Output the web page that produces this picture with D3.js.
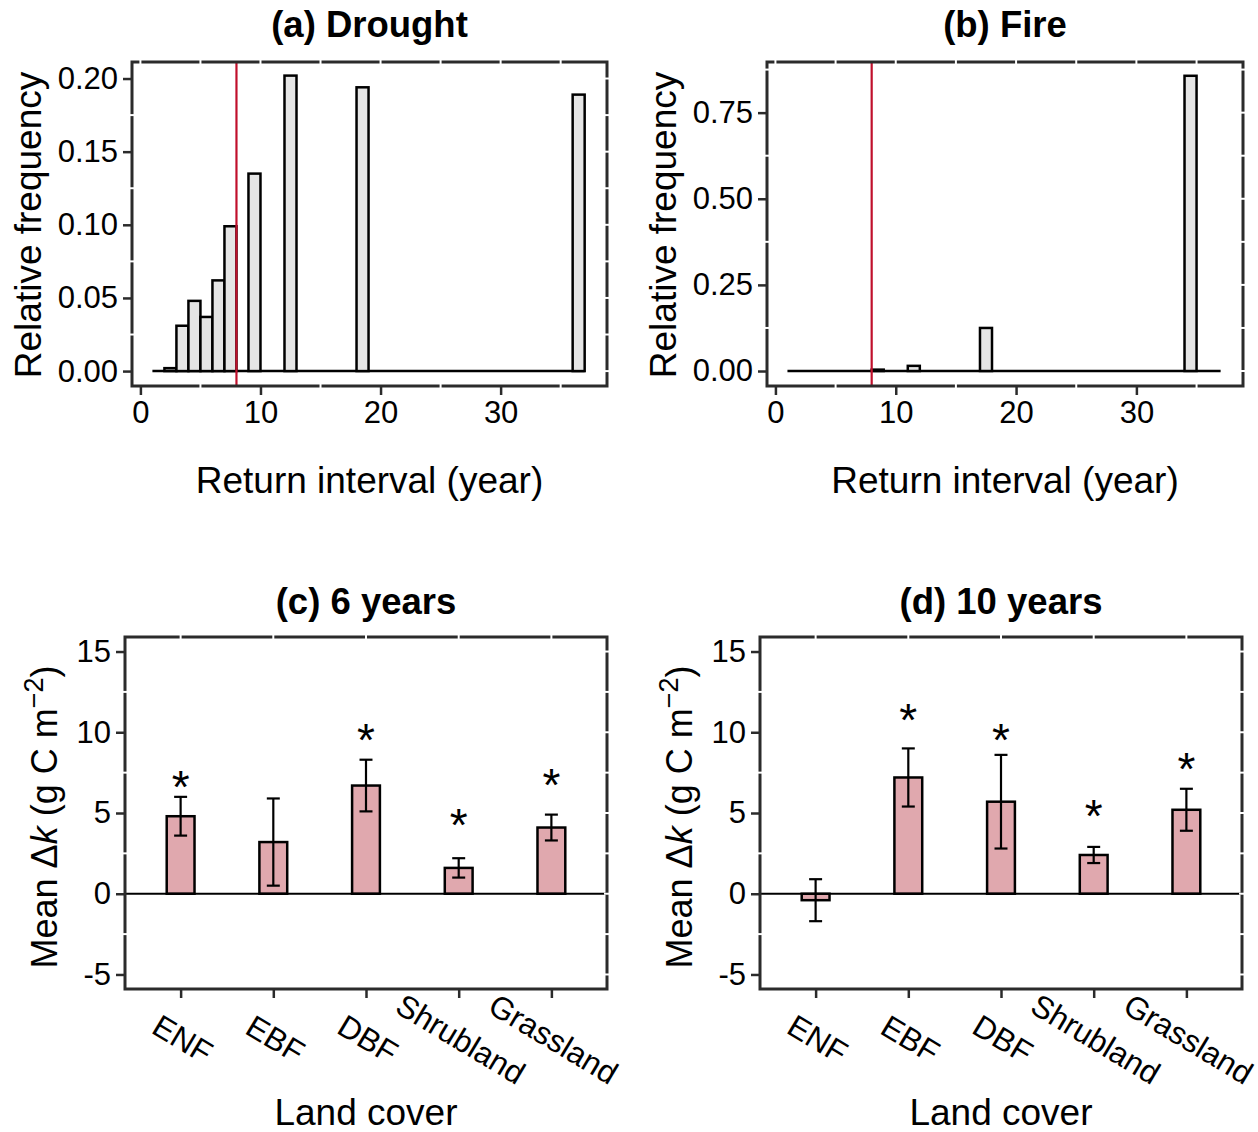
<!DOCTYPE html>
<html lang="en">
<head>
    <meta charset="UTF-8">
    <title>Return intervals and mean delta k</title>
    <script src="https://d3js.org/d3.v7.min.js"></script>
    <style>
        body {
            margin: 0;
            padding: 0;
            background: #fff;
            overflow: hidden;
        }
        svg {
            display: block;
            font-family: "Liberation Sans", Arial, sans-serif;
        }
    </style>
</head>
<body>
    <svg id="chart" width="1258" height="1132"></svg>

    <script>
        // histogram bins (left edge, 1 year wide) and relative frequencies
        const droughtBins = [2, 3, 4, 5, 6, 7, 9, 12, 18, 36];
        const droughtFreq = [0.002, 0.031, 0.048, 0.037, 0.062, 0.099, 0.135, 0.202, 0.194, 0.189];
        const fireBins = [8, 11, 17, 34];
        const fireFreq = [0.004, 0.015, 0.125, 0.857];
        const binRange = [1, 37];
        const thresholdYear = 8;

        const freqTicksDrought = [0, 0.05, 0.10, 0.15, 0.20];
        const freqTicksFire = [0, 0.25, 0.50, 0.75];
        const yearTicks = [0, 10, 20, 30];

        // mean delta k by land cover
        const landCover = ["ENF", "EBF", "DBF", "Shrubland", "Grassland"];
        const mean6 = [4.8, 3.2, 6.7, 1.6, 4.1];
        const se6 = [1.2, 2.7, 1.6, 0.6, 0.8];
        const star6 = [7.3, null, 10.2, 4.9, 7.4];   // height of the "*" marks
        const mean10 = [-0.4, 7.2, 5.7, 2.4, 5.2];
        const se10 = [1.3, 1.8, 2.9, 0.5, 1.3];
        const star10 = [null, 11.4, 10.2, 5.5, 8.4];
        const dkTicks = [-5, 0, 5, 10, 15];

        const svg = d3.select("#chart");
        const frameColor = "#2b2b2b";

        // frame with little white notches at tick positions (like the original plot)
        function drawFrame(g, box, notches) {
            g.append("rect")
                .attr("x", box.x0).attr("y", box.y0)
                .attr("width", box.x1 - box.x0).attr("height", box.y1 - box.y0)
                .attr("fill", "none")
                .attr("stroke", frameColor)
                .attr("stroke-width", 3);

            const n = g.append("g").attr("stroke", "#fff").attr("stroke-width", 2);
            notches.left.forEach(y => n.append("line").attr("x1", box.x0 - 3).attr("x2", box.x0 + 3).attr("y1", y).attr("y2", y));
            notches.right.forEach(y => n.append("line").attr("x1", box.x1 - 3).attr("x2", box.x1 + 3).attr("y1", y).attr("y2", y));
            notches.top.forEach(x => n.append("line").attr("y1", box.y0 - 3).attr("y2", box.y0 + 3).attr("x1", x).attr("x2", x));
            notches.bottom.forEach(x => n.append("line").attr("y1", box.y1 - 3).attr("y2", box.y1 + 3).attr("x1", x).attr("x2", x));
        }

        function styleAxis(ax, size) {
            ax.select(".domain").remove();
            ax.selectAll(".tick line").attr("stroke", frameColor).attr("stroke-width", 2.5);
            ax.selectAll(".tick text").attr("fill", "#000").attr("font-size", size)
                .attr("font-family", "'Liberation Sans', Arial, sans-serif");
        }

        function title(text, cx, y) {
            svg.append("text")
                .attr("x", cx).attr("y", y)
                .attr("text-anchor", "middle")
                .attr("font-size", 36.5)
                .attr("font-weight", "bold")
                .text(text);
        }

        function drawHist(opt) {
            const box = opt.box;
            const g = svg.append("g");
            const x = d3.scaleLinear().domain([-0.7, 38.86]).range([box.x0, box.x1]);
            const y = d3.scaleLinear().domain(opt.yDomain).range([box.y1, box.y0]);

            // baseline of the histogram
            g.append("line")
                .attr("x1", x(binRange[0])).attr("x2", x(binRange[1]))
                .attr("y1", y(0)).attr("y2", y(0))
                .attr("stroke", "#000").attr("stroke-width", 2.5);

            g.selectAll("rect.bin")
                .data(opt.bins.map((b, i) => ({ b: b, v: opt.freq[i] })))
                .enter().append("rect")
                .attr("class", "bin")
                .attr("x", d => x(d.b))
                .attr("width", d => x(d.b + 1) - x(d.b))
                .attr("y", d => y(d.v))
                .attr("height", d => y(0) - y(d.v))
                .attr("fill", "#e5e5e5")
                .attr("stroke", "#000")
                .attr("stroke-width", 2.5);

            g.append("line")
                .attr("x1", x(thresholdYear)).attr("x2", x(thresholdYear))
                .attr("y1", box.y0).attr("y2", box.y1)
                .attr("stroke", "#c0102c").attr("stroke-width", 2.2);

            const step = opt.yTicks[1] - opt.yTicks[0];
            const minorY = opt.yTicks.map(t => t + step / 2).filter(t => y(t) > box.y0 + 4);
            const allY = opt.yTicks.concat(minorY);
            const minorX = [5, 15, 25, 35];
            drawFrame(g, box, {
                left: minorY.map(y),
                right: allY.map(y),
                top: yearTicks.concat(minorX).map(x),
                bottom: minorX.map(x)
            });

            const ay = g.append("g").attr("transform", `translate(${box.x0 - 1},0)`)
                .call(d3.axisLeft(y).tickValues(opt.yTicks).tickFormat(d3.format(".2f")).tickSize(8).tickPadding(5));
            styleAxis(ay, 31);
            const ax = g.append("g").attr("transform", `translate(0,${box.y1 + 1})`)
                .call(d3.axisBottom(x).tickValues(yearTicks).tickFormat(d3.format("d")).tickSize(8).tickPadding(6));
            styleAxis(ax, 31);

            const cx = (box.x0 + box.x1) / 2;
            svg.append("text")
                .attr("x", cx).attr("y", 493)
                .attr("text-anchor", "middle")
                .attr("font-size", 37)
                .text("Return interval (year)");
            svg.append("text")
                .attr("transform", `translate(${box.x0 - 91},${(box.y0 + box.y1) / 2 + 1}) rotate(-90)`)
                .attr("text-anchor", "middle")
                .attr("font-size", 37)
                .text("Relative frequency");
            title(opt.title, cx, 37);
        }

        function drawBars(opt) {
            const box = opt.box;
            const g = svg.append("g");
            const x = d3.scaleLinear().domain([0.4, 5.6]).range([box.x0, box.x1]);
            const y = d3.scaleLinear().domain([-5.9, 15.9]).range([box.y1, box.y0]);
            const rows = landCover.map((c, i) => ({ i: i + 1, c: c, m: opt.mean[i], s: opt.se[i], star: opt.star[i] }));
            const bw = x(1.15) - x(0.85);
            const cap = x(1.07) - x(0.93);

            g.selectAll("rect.bar")
                .data(rows)
                .enter().append("rect")
                .attr("class", "bar")
                .attr("x", d => x(d.i) - bw / 2)
                .attr("width", bw)
                .attr("y", d => y(Math.max(0, d.m)))
                .attr("height", d => Math.abs(y(d.m) - y(0)))
                .attr("fill", "#e0a8ae")
                .attr("stroke", "#000")
                .attr("stroke-width", 2.5);

            g.append("line")
                .attr("x1", box.x0).attr("x2", box.x1)
                .attr("y1", y(0)).attr("y2", y(0))
                .attr("stroke", "#000").attr("stroke-width", 2);

            const err = g.append("g").attr("stroke", "#000").attr("stroke-width", 2.2);
            rows.forEach(d => {
                err.append("line").attr("x1", x(d.i)).attr("x2", x(d.i)).attr("y1", y(d.m + d.s)).attr("y2", y(d.m - d.s));
                err.append("line").attr("x1", x(d.i) - cap / 2).attr("x2", x(d.i) + cap / 2).attr("y1", y(d.m + d.s)).attr("y2", y(d.m + d.s));
                err.append("line").attr("x1", x(d.i) - cap / 2).attr("x2", x(d.i) + cap / 2).attr("y1", y(d.m - d.s)).attr("y2", y(d.m - d.s));
            });

            const starSize = 46;
            g.selectAll("text.star")
                .data(rows.filter(d => d.star !== null))
                .enter().append("text")
                .attr("class", "star")
                .attr("x", d => x(d.i))
                .attr("y", d => y(d.star) + 0.58 * starSize)
                .attr("text-anchor", "middle")
                .attr("font-size", starSize)
                .text("*");

            const minorY = [-2.5, 2.5, 7.5, 12.5];
            drawFrame(g, box, {
                left: minorY.map(y),
                right: dkTicks.concat(minorY).map(y),
                top: rows.map(d => x(d.i)),
                bottom: []
            });

            const ay = g.append("g").attr("transform", `translate(${box.x0 - 1},0)`)
                .call(d3.axisLeft(y).tickValues(dkTicks).tickFormat(d => String(d)).tickSize(8).tickPadding(5));
            styleAxis(ay, 31);

            const ax = g.append("g").attr("transform", `translate(0,${box.y1 + 1})`)
                .call(d3.axisBottom(x).tickValues(rows.map(d => d.i)).tickSize(8).tickFormat(""));
            styleAxis(ax, 31);

            g.selectAll("text.cat")
                .data(rows)
                .enter().append("text")
                .attr("class", "cat")
                .attr("transform", d => `translate(${x(d.i) + 2},${box.y1 + 50}) rotate(31)`)
                .attr("text-anchor", "middle")
                .attr("dominant-baseline", "central")
                .attr("font-size", 31.5)
                .text(d => d.c);

            const cx = (box.x0 + box.x1) / 2;
            svg.append("text")
                .attr("x", cx).attr("y", 1125)
                .attr("text-anchor", "middle")
                .attr("font-size", 37)
                .text("Land cover");

            const lab = svg.append("text")
                .attr("transform", `translate(${box.x0 - 68},${(box.y0 + box.y1) / 2 + 4}) rotate(-90)`)
                .attr("text-anchor", "middle")
                .attr("font-size", 36);
            lab.append("tspan").text("Mean \u0394");
            lab.append("tspan").attr("font-style", "italic").text("k");
            lab.append("tspan").text(" (g C m");
            lab.append("tspan").attr("dy", -14).attr("font-size", 27).text("\u22122");
            lab.append("tspan").attr("dy", 14).text(")");

            title(opt.title, cx, 614);
        }

        drawHist({ title: "(a) Drought", box: { x0: 132, x1: 607, y0: 62, y1: 386 },
            bins: droughtBins, freq: droughtFreq, yDomain: [-0.0102, 0.2113], yTicks: freqTicksDrought });
        drawHist({ title: "(b) Fire", box: { x0: 767, x1: 1243, y0: 62, y1: 386 },
            bins: fireBins, freq: fireFreq, yDomain: [-0.0435, 0.897], yTicks: freqTicksFire });
        drawBars({ title: "(c) 6 years", box: { x0: 125, x1: 607, y0: 637, y1: 989 },
            mean: mean6, se: se6, star: star6 });
        drawBars({ title: "(d) 10 years", box: { x0: 760, x1: 1242, y0: 637, y1: 989 },
            mean: mean10, se: se10, star: star10 });
    </script>
</body>
</html>
